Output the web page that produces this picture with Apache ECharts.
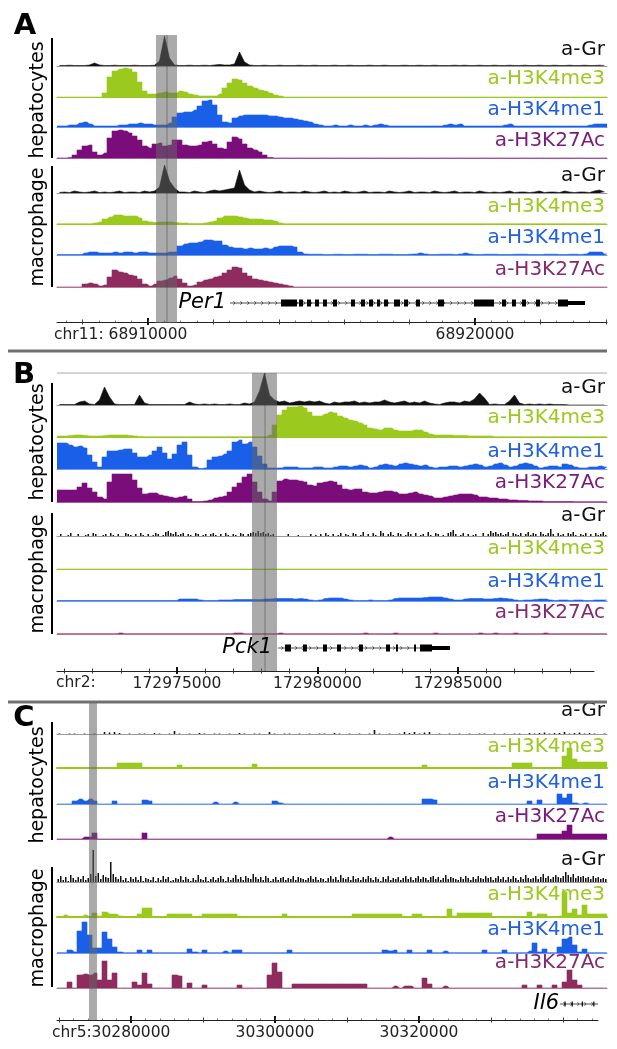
<!DOCTYPE html>
<html><head><meta charset="utf-8">
<script src="https://cdn.jsdelivr.net/npm/echarts@6/dist/echarts.min.js"></script>
<style>html,body{margin:0;padding:0;background:#fff}#c{width:617px;height:1049px}</style>
</head><body><div id="c"></div>
<script>
// ================= DATA =================
// Signal values (track units) in equal bins across each panel's genomic window

// ---- Panel A: chr11, Per1 ----
const A_window = [68907217, 68924037];
const A_hepGr = [0.5,0.5,0.8,0.5,0.5,0.5,1,3,1,0.5, 0.5,0.8,0.5,0.5,0.5,0.8,0.5,0.5,0.5,0.8, 5,30,8,1,0.5,0.5,0.8,0.5,0.5,0.8, 0.5,1,1.5,1,1,2,14,4,1,0.5, 0.5,0.8,0.5,0.5,0.8,0.5,0.5,0.5,0.8,0.5, 0.5,0.8,0.5,0.5,0.5,0.8,0.5,0.5,0.8,0.5, 0.5,0.5,0.8,0.5,0.5,0.8,0.5,0.5,0.5,0.8, 0.5,0.5,0.8,0.5,0.5,0.8,0.5,0.5,0.5,0.8, 0.5,0.8,0.5,0.5,0.8,0.5,0.5,0.8,0.5,0.5, 0.8,0.5,0.5,0.8,0.5,0.5,0.8,0.5,0.5,0.8, 0.5,0.5,0.8,0.5,0.5,0.8,0.5,0.5,0.8,0.5];
const A_hepK4me3 = [0,0,0,0,0,0,0,0,0,4, 20,26,28,29,28,25,15,6,3,3, 4,5,4,4,6,5,3,2,1,1, 1,1,3,9,14,18,17,14,11,9, 7,6,4,2,1,0,0,0,0,0, 0,0,0,0,0,0,0,0,0,0, 0,0,0,0,0,0,0,0,0,0, 0,0,0,0,0,0,0,0,0,0, 0,0,0,0,0,0,0,0,0,0, 0,0,0,0,0,0,0,0,0,0, 0,0,0,0,0,0,0,0,0,0];
const A_hepK4me1 = [1,1,2,2,4,5,3,1,1,1, 1,1,2,2,3,3,4,3,3,2, 2,2,4,10,14,15,15,17,21,26, 27,22,12,5,4,9,11,12,12,12, 12,12,11,11,10,9,9,8,7,6, 5,3,2,1,1,2,1,1,2,1, 1,2,1,2,3,2,1,1,1,1, 1,1,1,1,1,1,1,2,3,2, 3,1,1,1,1,1,1,1,1,2, 3,1,1,1,1,1,1,1,1,1, 1,1,1,1,1,1,2,3,3,3];
const A_hepK27Ac = [0,0,0.5,3,8,12,13,6,3,5, 20,27,28,27,25,22,18,12,10,14, 15,12,13,18,18,13,12,12,13,16, 17,14,10,9,16,21,19,14,10,8, 6,3,0.5,0,0,0,0,0,0,0, 0,0,0,0,0,0,0,0,0,0, 0,0,0,0,0,0,0,0,0,0, 0,0,0,0,0,0,0,0,0,0, 0,0,0,0,0,0,0,0,0,0, 0,0,0,0,0,0,0,0,0,0, 0,0,0,0,0,0,0,0,0,0];
const A_macGr = [0.5,1,0.5,2,1,0.5,1,2,0.5,1, 0.5,1,2,0.5,1,1,0.5,2,1,2, 6,28,12,5,1,1,0.5,2,1,0.5, 2,3,2,3,4,5,23,8,3,1, 2,1,0.5,1,2,0.5,1,1,0.5,2, 1,0.5,1,2,0.5,1,0.5,2,1,0.5, 1,2,0.5,1,1,0.5,2,1,0.5,1, 2,0.5,1,1,0.5,2,1,0.5,1,2, 0.5,1,1,0.5,2,1,0.5,1,0.5,1, 2,0.5,1,1,0.5,1,2,0.5,1,1, 0.5,2,1,0.5,1,1,0.5,2,3,1];
const A_macK4me3 = [0.3,0.3,0.3,0.3,0.3,0.3,0.3,1,2,5, 7,9,9,8,8,8,6,3,2,1.5, 2,2,2,1.5,1,1,0.5,0.5,0.5,1, 2,3,6,8,8,8,7,6,5,5, 5,4,4,3,1,0.3,0.3,0.3,0.3,0.3, 0.3,0.3,0.3,0.3,0.3,0.3,0.3,0.3,0.3,0.3, 0.3,0.3,0.3,0.3,0.3,0.3,0.3,0.3,0.3,0.3, 0.3,0.3,0.3,0.3,0.3,0.3,0.3,0.3,0.3,0.3, 0.3,0.3,0.3,0.3,0.3,0.3,0.3,0.3,0.3,0.3, 0.3,0.3,0.3,0.3,0.3,0.3,0.3,0.3,0.3,0.3, 0.3,0.3,0.3,0.3,0.3,0.3,0.3,0.3,0.3,0.3];
const A_macK4me1 = [0.5,0.5,0.5,0.5,0.5,2,3,3,2,2, 2,3,2,3,3,2,3,3,2,2, 2,2,3,3,9,11,12,12,13,15, 15,14,14,10,8,7,7,6,7,6, 6,7,6,8,9,9,9,8,3,1, 0.8,0.8,0.8,0.5,0.5,0.8,0.8,0.5,0.5,0.8, 0.8,0.8,0.5,0.5,0.8,0.8,0.8,0.5,0.5,0.5, 0.8,1,2,1,0.5,0.5,0.8,0.8,0.8,0.5, 1,2,1,0.5,0.5,0.8,0.8,0.8,0.5,0.5, 0.5,0.8,0.8,0.8,0.5,0.5,0.5,0.8,0.8,0.8, 0.5,0.5,0.8,0.8,0.5,1,3,3,3,1];
const A_macK27Ac = [0,0,0,0,0,3,4,3,1,2, 10,17,15,14,12,11,8,3,1,3, 6,7,9,11,8,4,1,2,5,7, 8,10,11,14,17,20,19,14,11,8, 7,6,5,4,3,2,1,0,0,0, 0,0,0,0,0,0,0,0,0,0, 0,0,0,0,0,0,0,0,0,0, 0,0,0,0,0,0,0,0,0,0, 0,0,0,0,0,0,0,0,0,0, 0,0,0,0,0,0,0,0,0,0, 0,0,0,0,0,0,0,0,0,0];
const A_highlight = [68910245, 68910887];
const A_highlightCenter = 68910581;
// Per1 gene model: [start, end, kind] kind 0=intron line, 1=UTR, 2=exon
const A_gene = [[68912508,68923364,0],[68914067,68914556,2],[68914618,68914740,2],[68914862,68914985,2],[68915107,68915229,2],[68915352,68915474,2],[68915657,68915780,2],[68916208,68916330,2],[68916514,68916636,2],[68916758,68916881,2],[68917003,68917095,2],[68917217,68917339,2],[68917523,68917706,2],[68917828,68917951,2],[68918195,68918318,2],[68918868,68919052,2],[68919969,68920581,2],[68920825,68920948,2],[68921131,68921253,2],[68921437,68921559,2],[68921865,68921987,2],[68922538,68922844,2],[68922844,68923364,1]];
const A_majorTicks = [68910000, 68920000];
const A_midTicks = [68908000, 68912000, 68914000, 68916000, 68918000, 68922000, 68924000];

// ---- Panel B: chr2, Pck1 ----
const B_window = [172970730, 172990302];
const B_hepGr = [0.5,0.5,0.5,0.5,3,4,1,0.5,5,18, 8,1,0.5,0.5,0.5,0.5,10,2,0.5,0.5, 0.5,0.5,0.5,0.5,0.5,0.5,3,1,0.5,1, 0.5,1,0.5,0.5,1,0.5,0.5,2,1,3, 14,32,10,5,3,4,2,3,4,3, 4,3,4,2,1,3,2,3,3,4, 2,3,2,3,3,5,3,2,3,4, 2,3,2,4,2,1,0.5,2,3,3, 2,4,3,6,12,7,0.5,1,0.5,0.5, 4,10,2,0.5,1,0.5,1,0.5,1,0.5, 0.5,0.5,0,0,0,0,0,0,0,0];
const B_hepK4me3 = [1,1,1.5,2,2,1.5,1,1,1,1.5, 2,2,2,2,1.5,1,0.5,0.3,0.3,0.3, 0.3,0.3,0.3,0.3,0.3,0.3,0.3,0.3,0.3,0.3, 0.3,0.3,0.3,0.3,0.3,0.3,0.3,0.3,0.3,0.3, 0.3,0.3,2,12,22,27,30,30,31,29, 25,21,21,23,25,24,21,19,17,16, 14,12,9,8,7,9,9,7,6,6, 6,7,7,5,3,2,2,2,2,1.5, 1.5,1.5,1,1,1,1,1,0.3,0.3,0.3, 0.3,0.3,0.3,0.3,0.3,0.3,0.3,0.3,0.3,0.3, 0.3,0.3,0.3,0.3,0.3,0.3,0.3,0.3,0.3,0.3];
const B_hepK4me1 = [26,26,24,22,23,21,14,7,2,12, 18,18,19,20,20,16,12,12,14,18, 22,16,10,15,24,27,14,2,0.5,1, 9,12,13,15,18,27,29,25,27,22, 13,5,1,1,1,2,2,2,1,1, 1,2,2,1,1,2,3,3,2,3, 4,3,1,2,4,5,4,3,5,6, 5,4,3,4,2,1,2,2,3,3, 2,3,4,5,4,2,3,5,6,4, 2,3,5,6,5,3,1,2,3,3, 2,5,4,2,1,1,2,2,3,2];
const B_hepK27Ac = [12,12,12,12,15,19,14,10,5,3, 20,28,28,28,28,22,14,8,9,9, 7,6,5,4,5,6,3,0.5,0.5,1, 2,4,5,6,10,15,19,25,28,20, 10,3,1,10,21,23,22,22,21,20, 17,16,19,20,21,20,17,13,12,13, 13,10,9,9,10,11,11,10,8,8, 9,10,8,7,6,4,4,5,6,7, 8,8,8,7,5,5,4,4,3,3, 2,2,1.5,1.5,1,1,1,0.5,0.5,0.5, 0.5,0.5,0.5,0.3,0.3,0.3,0.3,0.3,0.3,0.3];
const B_macGr = [0,2,0,0,1,3,0,0,2,0, 0,1,2,0,3,2,0,0,1,2, 0,3,1,0,2,0,0,3,2,1, 0,2,0,3,1,0,2,0,1,3, 2,0,1,4,5,3,2,4,1,2, 3,0,2,1,0,3,2,0,1,2, 0,2,3,1,0,2,0,3,1,0, 2,1,0,3,2,0,2,3,4,3, 5,3,4,2,3,1,2,0,0,0, 0,0,2,0,0,0,1,0,0,0, 0,2,0,1,0,2,0,3,1,0, 2,0,1,3,0,2,1,0,3,2, 0,1,4,0,2,0,3,1,0,5, 3,0,2,4,1,0,3,2,0,1, 4,2,0,3,0,1,2,0,4,1, 0,3,2,0,1,0,3,4,6,2, 0,1,3,0,2,0,1,2,0,0, 3,0,2,5,3,4,2,3,1,2, 4,0,3,2,1,3,0,2,4,1, 3,2,0,4,2,1,3,7,2,0, 3,1,2,0,3,2,4,1,0,2, 1,3,0,2,0,3,1,2,4,1];
const B_macK4me3 = [0,0,0,0,0,0,0,0,0,0, 0,0,0,0,0,0,0,0,0,0, 0,0,0,0,0,0,0,0,0,0, 0,0,0,0,0,0,0,0,0,0, 0,0,0,0,0,0,0,0,0,0, 0,0,0,0,0,0,0,0,0,0, 0,0,0,0,0,0,0,0,0,0, 0,0,0,0,0,0,0,0,0,0, 0,0,0,0,0,0,0,0,0,0, 0,0,0,0,0,0,0,0,0,0, 0,0,0,0,0,0,0,0,0,0];
const B_macK4me1 = [0.5,0.5,0.5,0.5,0.5,0.5,0.5,0.5,0.5,0.5, 0.5,0.5,0.5,0.5,0.5,0.5,0.5,0.5,0.5,0.5, 0.5,0.5,0.5,0.5,2,2,2,2,1,0.5, 0.5,0.5,1,1,1,1.5,1.5,1.5,1.5,1.5, 1.5,2,2,2.5,2.5,2.5,2.5,2,2.5,2, 1,0.5,1,2.5,3,3,3,2,1,0.5, 0.5,0.5,1,0.5,0.5,0.5,1,2.5,3,3, 3,3,3,3.5,4,4,4,3,2,1, 1,2,2.5,2.5,2.5,2,2,2.5,3,2.5, 2,1,0.5,1,1,1.5,2,2,1,0.5, 1,1,0.5,1,1,0.5,0.5,1,1,1];
const B_macK27Ac = [0.3,0.3,0.3,0.3,0.3,0.3,0.3,0.3,0.3,0.3, 0.3,0.3,1,0.3,0.3,0.3,0.3,0.3,0.3,0.3, 0.3,0.3,0.3,0.3,0.3,0.3,0.3,0.3,0.3,0.3, 0.3,0.3,0.3,0.3,0.3,1,1,0.3,0.3,0.3, 0.3,0.3,0.3,0.3,1,0.3,0.3,0.3,0.3,0.3, 0.3,0.3,0.3,0.3,0.3,0.3,0.3,0.3,0.3,0.3, 0.3,1,0.3,0.3,0.3,0.3,0.3,1,0.3,0.3, 0.3,0.3,0.3,0.3,0.3,1,0.3,0.3,0.3,0.3, 0.3,0.3,0.3,0.3,1,0.3,0.3,1,0.3,0.3, 0.3,1,0.3,0.3,0.3,0.3,0.3,1,0.3,0.3, 0.3,0.3,0.3,0.3,0.3,0.3,0.3,0.3,0.3,0.3];
const B_highlight = [172977669, 172978559];
const B_highlightCenter = 172978132;
const B_gene = [[172978595,172984716,0],[172978844,172979057,2],[172979484,172979627,2],[172980196,172980339,2],[172980694,172980837,2],[172981477,172981620,2],[172982438,172982581,2],[172982794,172982865,2],[172983435,172983506,2],[172983648,172984075,2],[172984075,172984716,1]];
const B_majorTicks = [172975000, 172980000, 172985000];
const B_midTicks = [172971000,172972000,172973000,172974000,172976000,172977000,172978000,172979000,172981000,172982000,172983000,172984000,172986000,172987000,172988000,172989000];

// ---- Panel C: chr5, Il6 ----
const C_window = [30269722, 30346111];
const C_hepGr = [0.5,0,0.5,0.5,0,0.5,0,0.5,0,2, 1.5,2,1,0,0.5,0,0.5,0.5,0,1, 0.5,0,0.5,3,0.5,0,0.5,0,1,0.5, 0,0.5,0.5,0,0.5,0,1,0.5,0,0.5, 0.5,0,2,0.5,0,0.5,0.5,0,0.5,0, 0.5,0,0.5,0.5,0,1,0.5,0,0.5,0, 0.5,0,0.5,4,0.5,0,0.5,0,0.5,2, 1,2,0.5,1.5,2,0,0.5,0,0.5,0, 0.5,0,0.5,0,0.5,0.5,0,0.5,0,0.5, 0,0.5,0.5,0,1,0.5,1,1.5,0.5,1, 1,2,0.5,1,1.5,0.5,1,0.5,0,0.5];
const C_hepK4me3 = [0,0,0,0,0,0,0,0,0,0, 0,0,5,5,5,5,5,0,0,0, 0,0,0,0,3,0,0,0,0,0, 0,0,0,0,0,0,0,0,0,4, 0,0,0,0,0,0,0,0,0,0, 0,0,0,0,0,0,0,0,0,0, 0,0,0,0,0,0,0,0,0,0, 0,0,0,3,0,0,0,0,0,0, 0,0,0,0,0,0,0,0,0,0, 0,5,5,5,5,0,0,0,0,0, 0,12,20,9,6,6,6,6,6,6];
const C_hepK4me1 = [0,0,0,3,5,3,5,3,0,0, 0,3,0,0,0,0,0,4,3,0, 0,0,0,0,0,0,0,0,0,0, 0,2,0,0,0,2,0,0,0,0, 0,0,0,3,1,0,0,0,0,0, 0,0,0,0,0,0,0,0,0,0, 0,0,0,0,0,0,0,0,0,0, 0,0,0,5,5,4,0,0,0,0, 0,0,0,0,0,0,0,0,0,0, 0,0,0,0,3,0,4,0,0,0, 10,6,10,1,0,1,0,0,0,0];
const C_hepK27Ac = [0,0,0,0,0,2,2,6,0,0, 0,0,0,0,0,0,0,6,0,0, 0,0,0,0,0,0,0,0,0,0, 0,0,0,0,0,0,0,0,0,0, 0,0,0,0,0,0,0,0,0,0, 0,0,0,0,0,0,0,0,0,0, 0,0,0,0,0,0,2,0,0,0, 0,0,0,0,0,0,0,0,0,0, 0,0,0,0,0,0,0,0,0,0, 0,0,0,0,0,0,5,5,5,5, 5,8,14,5,5,5,5,5,5,5];
const C_macGr = [3,6,2,5,1,7,4,2,5,3, 6,2,4,8,32,6,9,3,7,5, 4,20,8,5,3,6,2,4,1,5, 3,5,2,6,1,4,3,2,5,1, 4,2,6,3,5,1,2,4,3,6, 2,5,3,1,4,2,7,3,2,5, 1,3,5,2,4,6,3,1,5,2, 4,7,3,5,2,6,4,3,8,5, 3,5,2,6,4,1,3,5,2,4, 5,2,4,3,6,2,5,4,3,2, 4,6,3,5,2,4,3,1,4,6, 3,5,2,7,4,3,5,2,6,3, 4,2,5,3,6,4,2,5,3,1, 5,3,6,2,4,3,5,2,4,6, 3,5,2,4,6,3,5,4,2,5, 6,3,5,2,4,7,3,5,4,3, 2,5,3,6,4,2,5,3,6,4, 3,6,4,5,2,4,6,3,5,2, 5,3,6,4,2,5,3,7,4,3, 4,6,3,5,8,4,6,3,5,7, 5,4,6,10,7,5,8,4,6,5, 6,4,5,3,6,4,5,3,4,3];
const C_macK4me3 = [0,2,0,0,0,2,0,4,1,5, 3,3,1,0,0,0,3,9,9,0, 0,0,3,3,3,3,3,0,0,3, 3,3,3,3,3,3,0,0,0,0, 0,0,0,0,0,3,0,0,0,0, 0,0,0,0,0,0,0,0,0,3, 3,3,3,3,3,3,3,3,3,0, 0,3,3,0,0,0,0,0,8,1, 4,4,4,4,4,4,4,0,0,0, 0,0,0,0,5,0,3,3,0,0, 1,25,4,8,2,12,3,3,3,3];
const C_macK4me1 = [0.3,0.3,3,1,22,31,18,5,5,21, 14,6,1,0.3,0.3,0.3,3,0.3,3,0.3, 0.3,0.3,0.3,0.3,0.3,0.3,4,1,0.3,3, 0.3,0.3,0.3,2,0.3,3,3,0.3,0.3,0.3, 0.3,0.3,0.3,0.3,0.3,0.3,3,0.3,0.3,0.3, 0.3,0.3,0.3,0.3,0.3,0.3,0.3,0.3,0.3,0.3, 0.3,0.3,0.3,0.3,0.3,3,2,3,0.3,0.3, 3,0.3,0.3,0.3,3,0.3,0.3,2,0.3,0.3, 0.3,0.3,0.3,0.3,0.3,3,0.3,0.3,0.3,3, 0.3,0.3,0.3,0.3,2,10,1,4,0.3,0.3, 6,14,16,8,1,4,0.3,0.3,0.3,0.3];
const C_macK27Ac = [0,0,6,0,13,14,13,15,8,27, 8,15,0,0,0,6,3,15,4,0, 0,0,0,13,12,0,5,0,0,3, 0,0,0,0,0,0,3,0,0,0, 0,0,13,25,16,0,0,4,4,4, 4,4,4,4,4,4,4,4,4,4, 4,4,0,0,0,0,0,2,0,2, 2,0,0,10,4,0,0,2,0,0, 0,0,0,0,0,0,0,0,0,0, 0,0,0,3,0,0,3,0,0,3, 0,6,18,8,3,0,0,0,0,0];
const C_highlight = [30274166, 30275277];
const C_gene = [[30339588,30344866,0],[30340200,30340330,1],[30341200,30341330,1],[30342600,30342730,1],[30344200,30344330,1]];
const C_majorTicks = [30280000, 30300000, 30320000];
const C_midTicks = [30270000, 30290000, 30310000, 30330000, 30340000];

const trackNames = ['a-Gr','a-H3K4me3','a-H3K4me1','a-H3K27Ac','a-Gr','a-H3K4me3','a-H3K4me1','a-H3K27Ac'];
const groupNames = ['hepatocytes','macrophage'];

// ================= STYLE / LAYOUT =================
const FONT = "'DejaVu Sans', Verdana, sans-serif";
const GREEN = '#9bc91e', BLUE = '#1a5fe8', PURPLE = '#7a0d7a', MAROON = '#8f2b5e';
const trackStyle = [
  {color:'#111', label:'#111', base:'#9a9a9a'},
  {color:GREEN, label:GREEN, base:GREEN},
  {color:BLUE, label:'#1f5fe0', base:'#6f9af0'},
  {color:PURPLE, label:'#7a1a7a', base:'#a060a0'},
  {color:'#111', label:'#111', base:'#9a9a9a'},
  {color:GREEN, label:GREEN, base:GREEN},
  {color:BLUE, label:'#1f5fe0', base:'#6f9af0'},
  {color:MAROON, label:'#84296c', base:'#b57a95'}
];
const X0 = 57, X1 = 607;

const panels = [
  {letter:'A', letterXY:[25,26], chrom:'chr11:', chromX:54, win:A_window, axisRight:607,
   base:[66,97,127,158,193,224,255,287], h:30, labelOff:[16,18,17,17,17,17,17,17],
   tracks:[A_hepGr,A_hepK4me3,A_hepK4me1,A_hepK27Ac,A_macGr,A_macK4me3,A_macK4me1,A_macK27Ac],
   kinds:['line','step','step','step','line','step','step','step'], baseW:[1,1,1,1,1,1,1,1],
   hl:A_highlight, hlCenter:A_highlightCenter, band:[35,323],
   gene:A_gene, geneName:'Per1', geneY:303, geneTextX:226, exonH:7, utrH:4,
   axisY:322, majors:A_majorTicks, mids:A_midTicks, minorStep:500, labelY:335,
   hepBar:[38,158], macBar:[166,287], hepText:100, macText:227},
  {letter:'B', letterXY:[24,375], chrom:'chr2:', chromX:56, win:B_window, axisRight:594,
   base:[405,437,469,502,536,569,601,634], h:32, labelOff:[17,19,17,19,20,20,19,21],
   tracks:[B_hepGr,B_hepK4me3,B_hepK4me1,B_hepK27Ac,B_macGr,B_macK4me3,B_macK4me1,B_macK27Ac],
   kinds:['line','step','step','step','bar','step','step','step'], baseW:[1,1,1,1,1,1,1,1],
   hl:B_highlight, hlCenter:B_highlightCenter, band:[373,671], topLine:373,
   gene:B_gene, geneName:'Pck1', geneY:648, geneTextX:272, exonH:7, utrH:4,
   axisY:671, majors:B_majorTicks, mids:B_midTicks, minorStep:0, labelY:683,
   hepBar:[383,502], macBar:[513,634], hepText:442, macText:574},
  {letter:'C', letterXY:[24,718], chrom:'chr5:', chromX:52, win:C_window, axisRight:598,
   base:[734,768,804,839,882,917,953,988], h:34, labelOff:[23,21,21,22,22,22,23,25],
   tracks:[C_hepGr,C_hepK4me3,C_hepK4me1,C_hepK27Ac,C_macGr,C_macK4me3,C_macK4me1,C_macK27Ac],
   kinds:['bar','step','step','step','bar','step','step','step'], baseW:[1,2,1,1,1,2,1,1],
   hl:C_highlight, hlCenter:null, band:[703,1020],
   gene:C_gene, geneName:'Il6', geneY:1004, geneTextX:559, exonH:5, utrH:5,
   axisY:1020, majors:C_majorTicks, mids:C_midTicks, minorStep:2000, labelY:1033,
   hepBar:[722,840], macBar:[867,987], hepText:785, macText:928}
];

// ================= BUILD =================
const grids = [], xAxes = [], yAxes = [], series = [], graphics = [];
function addGrid(top, height, left, width, xmin, xmax, ymax, xAxisOpt) {
  const gi = grids.length;
  grids.push({left, top, width, height, containLabel:false});
  xAxes.push(Object.assign({gridIndex:gi, type:'value', min:xmin, max:xmax, position:'bottom',
    axisLine:{show:false}, axisTick:{show:false}, axisLabel:{show:false}, splitLine:{show:false}}, xAxisOpt||{}));
  yAxes.push({gridIndex:gi, type:'value', min:0, max:ymax, show:false, splitLine:{show:false}});
  return gi;
}

panels.forEach(p => {
  const [wmin, wmax] = p.win;
  p.tracks.forEach((vals, t) => {
    const st = trackStyle[t];
    const nb = vals.length;
    const bin = (wmax - wmin) / nb;
    const gi = addGrid(p.base[t] - p.h, p.h, X0, X1 - X0, wmin, wmax, p.h,
      {axisLine:{show:true, onZero:false, lineStyle:{color:st.base, width:p.baseW[t]}}});
    const data = vals.map((v, i) => [wmin + (i + 0.5) * bin, v]);
    const kind = p.kinds[t];
    if (kind === 'bar') {
      series.push({type:'bar', xAxisIndex:gi, yAxisIndex:gi, data, barWidth: nb > 150 ? 1.5 : 1.6, barGap:'-100%',
        itemStyle:{color:st.color}, silent:true, z:3});
    } else {
      const d = kind === 'step' ? [[wmin, vals[0]], ...data, [wmax, vals[nb - 1]]] : data;
      series.push({type:'line', xAxisIndex:gi, yAxisIndex:gi, data:d, step: kind === 'step' ? 'middle' : false,
        symbol:'none', smooth:false, lineStyle:{width:0.6, color:st.color},
        areaStyle:{color:st.color, opacity:1}, silent:true, z:3});
    }
    graphics.push({type:'text', x:605, y:p.base[t] - p.labelOff[t], z:20,
      style:{text:trackNames[t], fill:st.label, font:'20px ' + FONT, textAlign:'right', textVerticalAlign:'middle'}});
  });
  const bg = addGrid(p.band[0], p.band[1] - p.band[0], X0, X1 - X0, wmin, wmax, 1);
  series.push({type:'custom', xAxisIndex:bg, yAxisIndex:bg, z:10, silent:true,
    data:[[p.hl[0], p.hl[1]]],
    renderItem:(params, api) => {
      const a = api.coord([api.value(0), 1]), b = api.coord([api.value(1), 0]);
      return {type:'rect', shape:{x:a[0], y:a[1], width:b[0] - a[0], height:b[1] - a[1]},
        style:{fill:'rgba(100,100,100,0.55)'}};
    }});
  if (p.hlCenter) {
    series.push({type:'custom', xAxisIndex:bg, yAxisIndex:bg, z:11, silent:true,
      data:[[p.hlCenter]],
      renderItem:(params, api) => {
        const a = api.coord([api.value(0), 1]), b = api.coord([api.value(0), 0]);
        return {type:'line', shape:{x1:a[0], y1:a[1], x2:b[0], y2:b[1]}, style:{stroke:'rgba(60,60,60,0.6)', lineWidth:0.8}};
      }});
  }
  const gg = addGrid(p.geneY - 6, 12, X0, X1 - X0, wmin, wmax, 1);
  series.push({type:'custom', xAxisIndex:gg, yAxisIndex:gg, z:5, silent:true,
    data:p.gene, encode:{x:[0,1]},
    renderItem:(params, api) => {
      const s = api.value(0), e = api.value(1), k = api.value(2);
      const a = api.coord([s, 0.5]), b = api.coord([e, 0.5]);
      if (k === 0) {
        const ch = [{type:'line', shape:{x1:a[0], y1:a[1], x2:b[0], y2:b[1]}, style:{stroke:'#222', lineWidth:0.8}}];
        for (let x = a[0] + 5; x < b[0] - 2; x += 7) {
          ch.push({type:'polyline', shape:{points:[[x - 1.6, a[1] - 1.8], [x, a[1]], [x - 1.6, a[1] + 1.8]]},
            style:{stroke:'#222', fill:null, lineWidth:0.7}});
        }
        return {type:'group', children:ch};
      }
      const hh = k === 2 ? p.exonH : p.utrH;
      return {type:'rect', shape:{x:a[0], y:a[1] - hh / 2, width:Math.max(1.2, b[0] - a[0]), height:hh}, style:{fill:'#000'}};
    }});
  graphics.push({type:'text', x:p.geneTextX, y:p.geneY, z:20,
    style:{text:p.geneName, fill:'#000', font:'italic 21px ' + FONT, textAlign:'right', textVerticalAlign:'middle'}});
  const axMax = wmin + (p.axisRight - X0) / (X1 - X0) * (wmax - wmin);
  const aw = p.axisRight - X0;
  const minors = [];
  if (p.minorStep) {
    for (let v = Math.ceil(wmin / p.minorStep) * p.minorStep; v <= axMax; v += p.minorStep) minors.push(v);
  }
  const baseAx = {axisLine:{show:false}, axisLabel:{show:false}};
  addGrid(p.axisY - 1, 1, X0, aw, wmin, axMax, 1, {
    axisLine:{show:true, onZero:false, lineStyle:{color:'#222', width:1}},
    axisTick:{show:true, customValues:p.majors, length:3, inside:false, lineStyle:{color:'#111', width:2}},
    axisLabel:{show:true, customValues:p.majors, margin:5, formatter:v => String(Math.round(v)),
      fontFamily:FONT, fontSize:15.5, color:'#222'}});
  addGrid(p.axisY - 1, 1, X0, aw, wmin, axMax, 1, Object.assign({}, baseAx, {
    axisTick:{show:true, customValues:p.majors, length:4, inside:true, lineStyle:{color:'#111', width:2}}}));
  addGrid(p.axisY - 1, 1, X0, aw, wmin, axMax, 1, Object.assign({}, baseAx, {
    axisTick:{show:true, customValues:p.mids, length:2.5, inside:false, lineStyle:{color:'#333', width:1}}}));
  addGrid(p.axisY - 1, 1, X0, aw, wmin, axMax, 1, Object.assign({}, baseAx, {
    axisTick:{show:true, customValues:p.mids, length:2.5, inside:true, lineStyle:{color:'#333', width:1}}}));
  if (minors.length) {
    addGrid(p.axisY - 1, 1, X0, aw, wmin, axMax, 1, Object.assign({}, baseAx, {
      axisTick:{show:true, customValues:minors, length:1.5, inside:true, lineStyle:{color:'#555', width:0.8}}}));
  }
  graphics.push({type:'text', x:p.chromX, y:p.labelY, z:20,
    style:{text:p.chrom, fill:'#222', font:'15.5px ' + FONT, textAlign:'left', textVerticalAlign:'middle'}});
  graphics.push({type:'text', x:p.letterXY[0], y:p.letterXY[1], z:20,
    style:{text:p.letter, fill:'#000', font:'bold 29px ' + FONT, textAlign:'center', textVerticalAlign:'middle'}});
  [p.hepBar, p.macBar].forEach((b, gIdx) => {
    graphics.push({type:'line', z:20, shape:{x1:52, y1:b[0], x2:52, y2:b[1]}, style:{stroke:'#000', lineWidth:2}});
    graphics.push({type:'text', x:38, y:gIdx === 0 ? p.hepText : p.macText, rotation:Math.PI / 2, z:20,
      style:{text:groupNames[gIdx], fill:'#000', font:'19px ' + FONT, textAlign:'center', textVerticalAlign:'middle'}});
  });
  if (p.topLine) {
    graphics.push({type:'line', z:2, shape:{x1:X0, y1:p.topLine, x2:X1, y2:p.topLine}, style:{stroke:'#aaa', lineWidth:1}});
  }
});
[351, 702].forEach(y => graphics.push({type:'line', z:20, shape:{x1:8, y1:y, x2:607, y2:y}, style:{stroke:'#707070', lineWidth:3}}));

const chart = echarts.init(document.getElementById('c'), null, {renderer:'canvas', width:617, height:1049});
chart.setOption({
  animation:false, backgroundColor:'#fff',
  grid:grids, xAxis:xAxes, yAxis:yAxes, series, graphic:{elements:graphics}
});
</script></body></html>
